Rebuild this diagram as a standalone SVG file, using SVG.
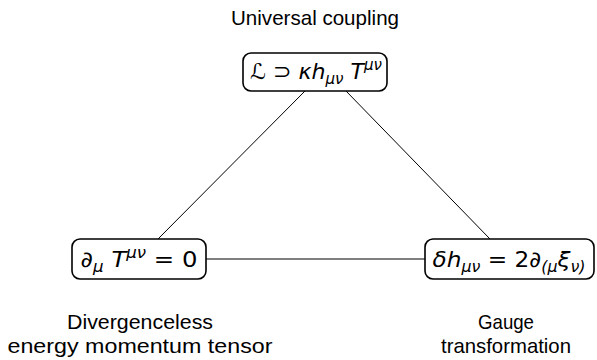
<svg xmlns="http://www.w3.org/2000/svg" width="597" height="360" viewBox="0 0 597 360">
<style>
.box{fill:#fff;stroke:#000;stroke-width:1.6}
.edge{stroke:#000;stroke-width:1;fill:none}
.lbl{font-family:"Liberation Sans","DejaVu Sans",sans-serif;font-size:21px;fill:#000;text-anchor:middle}
.m{font-family:"DejaVu Sans","Liberation Sans",sans-serif;font-size:22px;fill:#000;text-anchor:middle}
.i{font-style:italic}
.s{font-size:15px;font-style:italic}
</style>
<rect width="597" height="360" fill="#fff"/>
<g id="connectors">
<line class="edge" x1="305" y1="91" x2="158" y2="239"/>
<line class="edge" x1="346" y1="91" x2="490" y2="239"/>
<line class="edge" x1="206" y1="259" x2="425" y2="259"/>
</g>
<g id="node-coupling">
<rect class="box" x="243" y="53" width="144" height="38" rx="8"/>
<text class="m" x="316" y="79" textLength="132" lengthAdjust="spacingAndGlyphs">ℒ ⊃ <tspan class="i">κh</tspan><tspan class="s" dy="5">μν</tspan><tspan class="i" dy="-5"> T</tspan><tspan class="s" dy="-9">μν</tspan></text>
<text class="lbl" x="315" y="25" textLength="168" lengthAdjust="spacingAndGlyphs">Universal coupling</text>
</g>
<g id="node-divergence">
<rect class="box" x="72" y="239" width="134" height="40" rx="8"/>
<text class="m" x="139" y="267" textLength="117" lengthAdjust="spacingAndGlyphs"><tspan class="i">∂</tspan><tspan class="s" dy="5">μ</tspan><tspan class="i" dy="-5"> T</tspan><tspan class="s" dy="-9">μν</tspan><tspan dy="9"> = 0</tspan></text>
<text class="lbl" x="140" y="329" textLength="146" lengthAdjust="spacingAndGlyphs">Divergenceless</text>
<text class="lbl" x="140" y="353" textLength="265" lengthAdjust="spacingAndGlyphs">energy momentum tensor</text>
</g>
<g id="node-gauge">
<rect class="box" x="425" y="239" width="169" height="40" rx="8"/>
<text class="m" x="509" y="267" textLength="153" lengthAdjust="spacingAndGlyphs"><tspan class="i">δh</tspan><tspan class="s" dy="5">μν</tspan><tspan dy="-5"> = 2</tspan><tspan class="i">∂</tspan><tspan class="s" dy="5">(μ</tspan><tspan class="i" dy="-5">ξ</tspan><tspan class="s" dy="5">ν)</tspan></text>
<text class="lbl" x="506" y="329" textLength="56" lengthAdjust="spacingAndGlyphs">Gauge</text>
<text class="lbl" x="506" y="353" textLength="130" lengthAdjust="spacingAndGlyphs">transformation</text>
</g>
</svg>
